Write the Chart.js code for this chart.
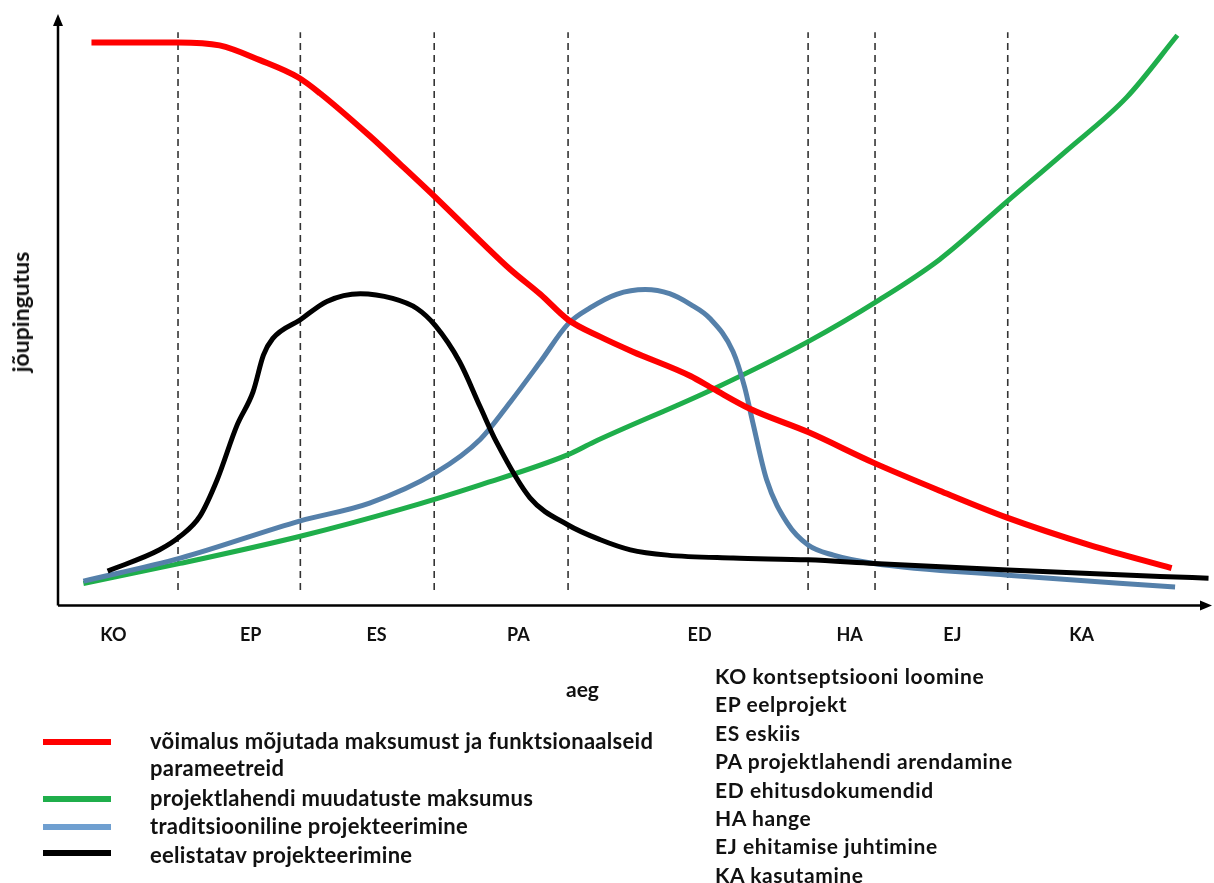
<!DOCTYPE html>
<html>
<head>
<meta charset="utf-8">
<script src="https://cdn.jsdelivr.net/npm/chart.js@4.4.1/dist/chart.umd.min.js"></script>
<style>
  body { margin: 0; background: #fff; }
  #wrap { position: relative; width: 1214px; height: 883px; font-family: Lato, "Open Sans", sans-serif; font-weight: bold; color: #111; }
  canvas { position: absolute; left: 0; top: 0; }
  .t { position: absolute; white-space: nowrap; font-size: 22px; letter-spacing: 0.3px; line-height: 1; transform: translateY(-50%); }
  .ab { font-size: 21px; letter-spacing: 0.6px; }
  .sw { position: absolute; width: 68px; height: 6px; transform: translateY(-50%); }
  #ytitle { position: absolute; left: 20px; top: 312px; font-size: 23px; transform: translate(-50%, -50%) rotate(-90deg); white-space: nowrap; }
</style>
</head>
<body>
<div id="wrap">
  <canvas id="chart" width="1214" height="883"></canvas>
  <div id="ytitle">jõupingutus</div>
  <div class="t ab" style="left:566px;top:688px;letter-spacing:0">aeg</div>
  <div id="legend"></div>
  <div id="abbr"></div>
</div>
<script>
// phases on the time axis (0..100)
const phaseNames = ["KO", "EP", "ES", "PA", "ED", "HA", "EJ", "KA"];
const phaseT = [4.8, 16.7, 27.6, 39.9, 55.6, 68.6, 77.5, 88.7];
const boundaryT = [10.4, 21.0, 32.6, 44.2, 65.0, 70.8, 82.3];
const phaseFull = [
  "KO kontseptsiooni loomine",
  "EP eelprojekt",
  "ES eskiis",
  "PA projektlahendi arendamine",
  "ED ehitusdokumendid",
  "HA hange",
  "EJ ehitamise juhtimine",
  "KA kasutamine"
];

// võimalus mõjutada maksumust ja funktsionaalseid parameetreid
const redT = [2.9, 10.4, 14.0, 17.5, 20.8, 22.7, 27.0, 29.6, 32.6, 36.6, 39.2, 41.8, 44.2, 47.0, 49.8, 54.8, 56.8, 60.0, 65.0, 70.7, 76.4, 82.3, 89.4, 96.5];
const redV = [95.2, 95.2, 94.7, 92.2, 89.3, 86.6, 79.4, 74.7, 69.2, 61.6, 56.8, 52.6, 48.3, 45.4, 42.9, 38.8, 36.6, 33.2, 29.3, 24.1, 19.4, 14.8, 10.2, 6.3];

// projektlahendi muudatuste maksumus
const greenT = [2.2, 10.6, 21.0, 29.6, 36.6, 44.2, 46.4, 56.8, 65.0, 71.2, 76.4, 82.3, 87.4, 92.6, 97.0];
const greenV = [3.7, 7.1, 11.7, 16.2, 20.4, 25.5, 27.6, 36.6, 44.6, 51.7, 58.5, 68.4, 76.9, 85.9, 96.4];

// traditsiooniline projekteerimine
const blueT = [2.2, 10.6, 21.0, 27.0, 32.7, 36.6, 39.2, 41.8, 44.2, 46.1, 48.4, 50.9, 53.0, 54.8, 56.5, 58.5, 59.5, 60.2, 61.4, 63.2, 65.0, 67.2, 70.7, 82.3, 96.8];
const blueV = [4.1, 8.0, 14.3, 17.3, 22.4, 28.1, 34.4, 41.2, 47.6, 50.3, 52.6, 53.4, 52.7, 50.9, 48.5, 42.9, 36.9, 31.0, 21.3, 13.9, 10.2, 8.5, 7.1, 5.1, 3.1];

// eelistatav projekteerimine
const blackT = [4.3, 8.8, 10.6, 12.3, 13.8, 15.5, 16.9, 17.8, 18.6, 21.0, 23.3, 26.2, 29.0, 31.1, 32.7, 34.8, 36.6, 38.0, 40.9, 44.2, 47.0, 49.6, 52.8, 58.5, 65.0, 70.7, 82.3, 95.5, 99.7];
const blackV = [5.8, 9.4, 11.7, 15.1, 21.3, 30.4, 36.1, 42.3, 45.1, 48.3, 51.4, 52.7, 51.9, 50.2, 47.3, 41.2, 33.5, 27.6, 18.2, 13.6, 11.1, 9.4, 8.5, 8.0, 7.7, 7.1, 6.0, 4.9, 4.6];

const dashTop = 96.9, dashBottom = 2.6;

const legendItems = [
  { color: "#ff0000", text: ["võimalus mõjutada maksumust ja funktsionaalseid", "parameetreid"] },
  { color: "#1fae4b", text: ["projektlahendi muudatuste maksumus"] },
  { color: "#6f9fd0", text: ["traditsiooniline projekteerimine"] },
  { color: "#000000", text: ["eelistatav projekteerimine"] }
];

function zip(ts, vs) {
  return ts.map((t, i) => ({ x: t, y: vs[i] }));
}

function curve(data, color, width, order) {
  return {
    data: data, borderColor: color, borderWidth: width, pointRadius: 0,
    cubicInterpolationMode: "monotone", fill: false, order: order
  };
}

const datasets = [
  curve(zip(redT, redV), "#ff0000", 6, 1),
  curve(zip(blackT, blackV), "#000000", 5, 2),
  curve(zip(blueT, blueV), "#5580aa", 5, 3),
  curve(zip(greenT, greenV), "#1fae4b", 5, 4)
];
boundaryT.forEach(b => {
  datasets.push({
    data: [{ x: b, y: dashBottom }, { x: b, y: dashTop }],
    borderColor: "#333", borderWidth: 1.6, borderDash: [7, 5],
    pointRadius: 0, order: 10
  });
});

// axes with arrow heads
const arrowAxes = {
  id: "arrowAxes",
  afterDatasetsDraw(chart) {
    const { ctx, chartArea: a } = chart;
    ctx.save();
    ctx.strokeStyle = "#000";
    ctx.fillStyle = "#000";
    ctx.lineWidth = 2.5;
    ctx.beginPath();
    ctx.moveTo(a.left, a.bottom);
    ctx.lineTo(a.left, a.top + 8);
    ctx.moveTo(a.left, a.bottom);
    ctx.lineTo(a.right - 8, a.bottom);
    ctx.stroke();
    ctx.beginPath();
    ctx.moveTo(a.left, a.top);
    ctx.lineTo(a.left - 5, a.top + 12);
    ctx.lineTo(a.left + 5, a.top + 12);
    ctx.closePath();
    ctx.fill();
    ctx.beginPath();
    ctx.moveTo(a.right, a.bottom);
    ctx.lineTo(a.right - 12, a.bottom - 5);
    ctx.lineTo(a.right - 12, a.bottom + 5);
    ctx.closePath();
    ctx.fill();
    ctx.restore();
  }
};

function buildLegend() {
  const el = document.getElementById("legend");
  const rowY = [742, 799, 827, 853];
  const textY = [741, 798, 826, 855];
  let html = "";
  legendItems.forEach((it, i) => {
    html += `<div class="sw" style="left:43px;top:${rowY[i]}px;background:${it.color}"></div>`;
    it.text.forEach((line, j) => {
      html += `<div class="t" style="left:150px;top:${textY[i] + j * 27}px">${line}</div>`;
    });
  });
  el.innerHTML = html;

  const ab = document.getElementById("abbr");
  ab.innerHTML = phaseFull.map((s, i) =>
    `<div class="t ab" style="left:715px;top:${675 + i * 28.4}px">${s}</div>`).join("");
}

window.onload = () => {
  buildLegend();
  new Chart(document.getElementById("chart"), {
    type: "line",
    data: { datasets: datasets },
    options: {
      responsive: false,
      animation: false,
      layout: { padding: { left: 58, right: 2, top: 14, bottom: 218 } },
      plugins: { legend: { display: false }, tooltip: { enabled: false } },
      scales: {
        x: {
          type: "linear", min: 0, max: 100,
          grid: { display: false, drawTicks: false },
          border: { display: false },
          afterBuildTicks: (scale) => { scale.ticks = phaseT.map(v => ({ value: v })); },
          ticks: {
            autoSkip: false, maxRotation: 0, padding: 19, color: "#111",
            font: { family: "Lato", size: 18, weight: "bold" },
            callback: (v) => phaseNames[phaseT.indexOf(v)] || ""
          }
        },
        y: { type: "linear", min: 0, max: 100, display: false }
      }
    },
    plugins: [arrowAxes]
  });
};
</script>
</body>
</html>
